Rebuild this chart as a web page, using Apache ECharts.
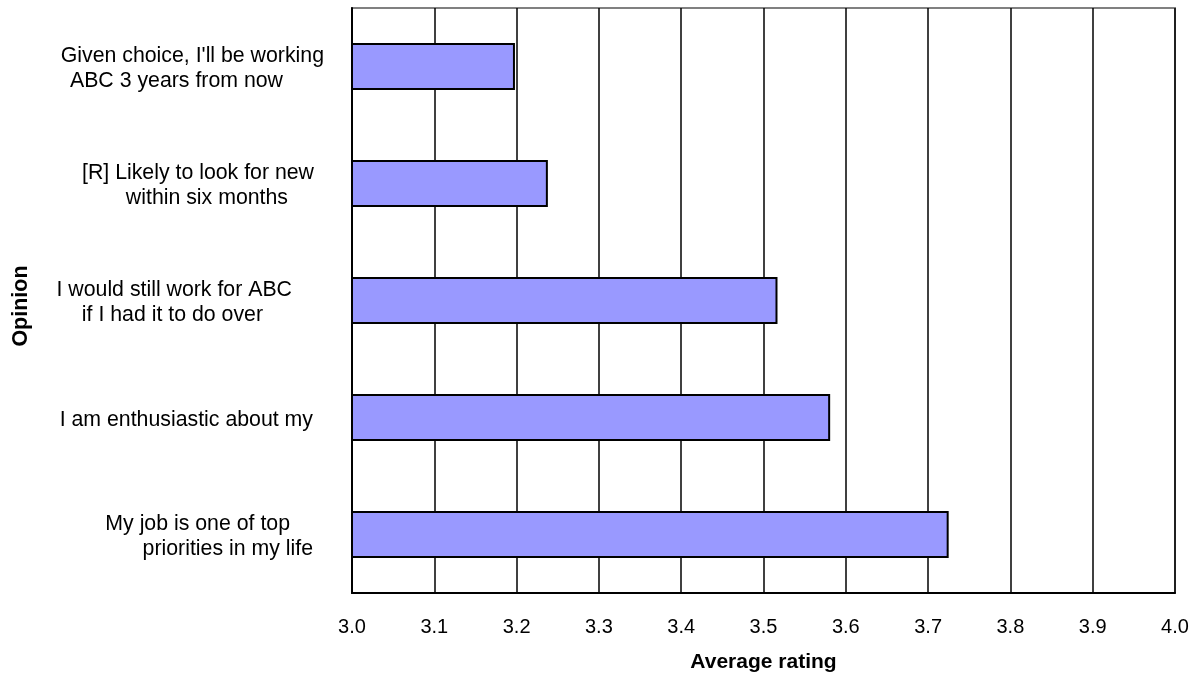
<!DOCTYPE html>
<html>
<head>
<meta charset="utf-8">
<script src="https://cdn.jsdelivr.net/npm/echarts@6/dist/echarts.min.js"></script>
<style>
  html, body { margin: 0; padding: 0; background: #fff; }
  #main { width: 1198px; height: 679px; }
</style>
</head>
<body>
<div id="main"></div>
<script>
// opinions, top to bottom (each entry is the wrapped lines of the label)
var opinions = [
  ["Given choice, I'll be working", "ABC 3 years from now"],
  ["[R] Likely to look for new", "within six months"],
  ["I would still work for ABC", "if I had it to do over"],
  ["I am enthusiastic about my"],
  ["My job is one of top", "priorities in my life"]
];
var ratings = [3.198, 3.238, 3.517, 3.581, 3.725];
var tickLabels = ['3.0', '3.1', '3.2', '3.3', '3.4', '3.5', '3.6', '3.7', '3.8', '3.9', '4.0'];

// per-line right indent so the wrapped lines sit like the original
var indents = [[0, 41], [10, 36], [32, 61], [11], [34, 11]];

var rich = {};
var categories = opinions.map(function (lines, i) {
  return lines.map(function (line, j) {
    var key = 'l' + i + '_' + j;
    rich[key] = {
      align: 'right',
      fontSize: 21.3,
      fontFamily: 'Liberation Sans, Arial, sans-serif',
      color: '#000',
      lineHeight: 25,
      padding: [0, indents[i][j], 0, 0]
    };
    return '{' + key + '|' + line + '}';
  }).join('\n');
});

var myChart = echarts.init(document.getElementById('main'));
window.onresize = function () {
  myChart.resize();
};

myChart.setOption({
  animation: false,
  textStyle: { fontFamily: 'Liberation Sans, Arial, sans-serif' },
  grid: {
    left: 352,
    right: 23,
    top: 8,
    bottom: 86,
    show: true,
    borderColor: '#808080',
    borderWidth: 2,
    backgroundColor: '#fff'
  },
  xAxis: {
    type: 'value',
    min: 3,
    max: 4,
    interval: 0.1,
    name: 'Average rating',
    nameLocation: 'middle',
    nameGap: 59,
    nameTextStyle: { fontSize: 21, fontWeight: 'bold', color: '#000' },
    axisLine: { show: true, lineStyle: { color: '#000', width: 2 } },
    axisTick: { show: false },
    axisLabel: {
      margin: 24,
      fontSize: 20,
      color: '#000',
      formatter: function (v) {
        return tickLabels[Math.round((v - 3) * 10)];
      }
    },
    splitLine: { show: true, lineStyle: { color: '#000', width: 1.5 } }
  },
  yAxis: {
    type: 'category',
    inverse: true,
    data: categories,
    name: 'Opinion',
    nameLocation: 'middle',
    nameGap: 320,
    nameTextStyle: { fontSize: 21.5, fontWeight: 'bold', color: '#000', padding: [0, 11, 0, 0] },
    axisLine: { show: true, lineStyle: { color: '#000', width: 2 } },
    axisTick: { show: false },
    axisLabel: {
      margin: 28,
      align: 'right',
      padding: [5, 0, 0, 0],
      rich: rich
    },
    splitLine: { show: false }
  },
  series: [
    {
      name: 'Average rating',
      type: 'bar',
      data: ratings,
      barWidth: 47,
      itemStyle: { color: '#9999FF', borderColor: '#000', borderWidth: 2 }
    }
  ]
});
</script>
</body>
</html>
